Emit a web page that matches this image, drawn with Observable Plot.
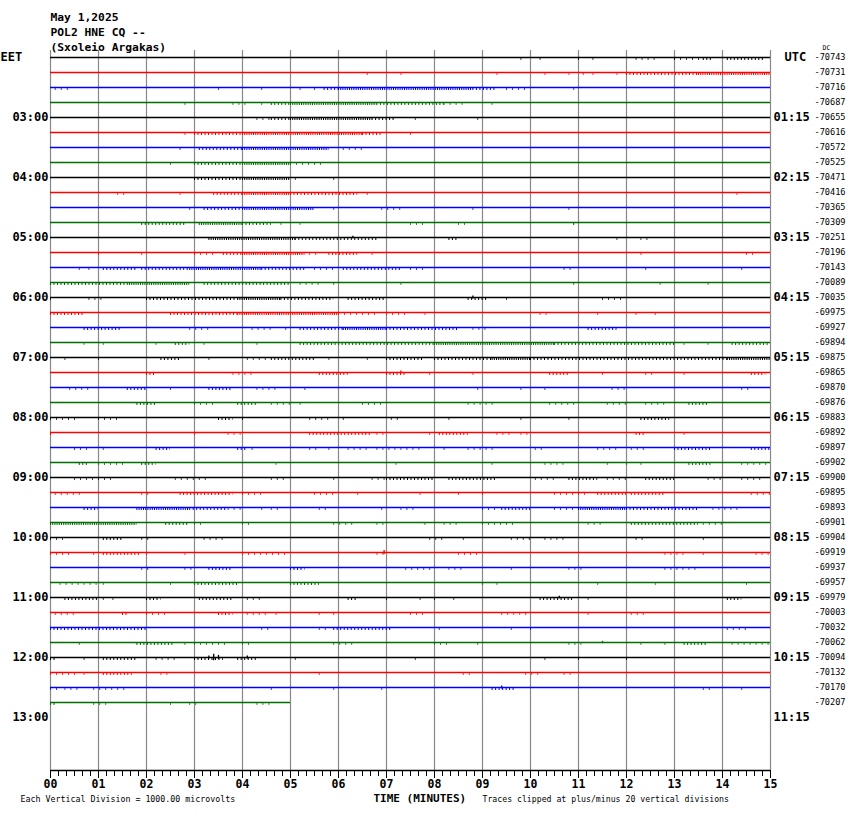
<!DOCTYPE html>
<html><head><meta charset="utf-8">
<script src="https://cdn.jsdelivr.net/npm/d3@7"></script>
<script src="https://cdn.jsdelivr.net/npm/@observablehq/plot@0.6"></script>
<style>
body{margin:0;background:#fff;}
#wrap{width:850px;height:814px;}
</style></head><body><div id="wrap"></div>
<script>
// ---------- data ----------
const titleLines = ["May 1,2025", "POL2 HNE CQ --", "(Sxoleio Argakas)"];
const hourLabels = ["03:00","04:00","05:00","06:00","07:00","08:00","09:00","10:00","11:00","12:00","13:00"];
const utcLabels  = ["01:15","02:15","03:15","04:15","05:15","06:15","07:15","08:15","09:15","10:15","11:15"];
const dcValues = [-70743,-70731,-70716,-70687,-70655,-70616,-70572,-70525,-70471,-70416,-70365,-70309,
  -70251,-70196,-70143,-70089,-70035,-69975,-69927,-69894,-69875,-69865,-69870,-69876,
  -69883,-69892,-69897,-69902,-69900,-69895,-69893,-69901,-69904,-69919,-69937,-69957,
  -69979,-70003,-70032,-70062,-70094,-70132,-70170,-70207];
const traceColors = ["#000000", "#ff0000", "#0000ff", "#006e00"];
const minuteTicks = [0,1,2,3,4,5,6,7,8,9,10,11,12,13,14,15];
const lastRowEnd = 5; // last trace stops at minute 5
// noise bands per row: [fromMinute, toMinute, level (1 sparse, 2 medium, 3 dense)]
const noise = [
 [[9.8,9.8,1],[10.2,10.2,1],[11.0,11.0,1],[11.3,11.4,1],[12.2,12.7,1],[13.0,13.6,1],[13.6,13.8,2],[14.1,14.9,2]],
 [[6.6,6.6,1],[7.3,7.3,1],[9.3,9.3,1],[10.3,10.3,1],[10.8,10.8,1],[11.1,11.1,1],[11.3,11.3,1],[11.8,11.8,1],[12.0,13.5,2],[13.5,15,3]],
 [[0.1,0.4,1],[3.5,3.5,1],[4.4,4.4,1],[5.2,5.2,1],[5.5,5.5,1],[5.7,6.0,2],[6.0,8.8,3],[8.8,9.3,2],[9.5,9.9,1],[10.9,10.9,1]],
 [[2.8,2.8,1],[3.8,4.1,1],[4.4,4.4,1],[4.6,5.0,2],[5.0,6.8,3],[6.8,8.2,2],[8.2,8.6,1],[9.2,9.2,1]],
 [[4.3,4.6,1],[4.6,5.0,2],[5.0,6.7,3],[6.7,7.2,2],[7.6,7.6,1],[8.9,8.9,1]],
 [[2.8,2.8,1],[3.0,4.0,2],[4.0,6.5,3],[6.5,6.9,2],[7.5,7.5,1]],
 [[2.7,2.7,1],[3.1,4.0,2],[4.0,5.8,3],[6.1,6.6,1]],
 [[2.5,2.6,1],[3.0,4.0,2],[4.0,5.0,3],[5.0,5.7,1]],
 [[3.0,4.0,2],[4.0,5.0,3],[5.1,5.1,1],[5.9,5.9,1]],
 [[1.4,1.6,1],[2.7,2.7,1],[3.4,4.0,2],[4.0,5.0,3],[5.0,6.4,2],[6.6,6.6,1],[14.3,14.3,1]],
 [[2.9,3.0,1],[3.2,4.0,2],[4.0,5.5,3],[5.9,5.9,1],[6.9,7.4,1],[8.8,8.8,1],[10.8,10.8,1]],
 [[1.9,2.8,2],[3.1,4.0,3],[4.0,4.6,2],[4.8,4.8,1],[5.2,5.2,1],[7.5,7.8,1],[8.5,8.7,1],[10.9,10.9,2]],
 [[3.3,5.1,3],[5.1,6.8,2],[8.3,8.5,2],[11.8,11.8,1],[12.3,12.5,1]],
 [[1.0,1.0,1],[1.9,1.9,1],[3.0,3.4,1],[3.6,4.0,2],[4.0,5.3,3],[5.4,5.6,1],[5.8,6.4,2],[6.7,6.7,1],[12.3,12.3,1],[14.5,14.7,1]],
 [[0.6,0.6,1],[0.8,0.8,1],[1.1,1.8,2],[1.9,2.9,2],[2.9,4.4,3],[4.4,5.3,2],[5.5,6.0,1],[6.1,7.3,2],[7.5,7.8,1],[10.7,10.9,1],[12.4,12.5,1],[14.4,14.5,1]],
 [[0,1.6,2],[1.6,2.9,3],[3.2,5.0,2],[5.2,5.7,1],[5.9,5.9,1],[7.3,7.3,1],[10.9,11.0,1],[12.7,12.7,1],[13.7,13.7,1]],
 [[0,0,1],[0.8,1.1,1],[2.0,3.9,2],[3.9,4.8,3],[4.8,5.9,2],[6.2,7.0,2],[8.7,9.1,2],[9.5,9.5,1],[11.5,11.9,1]],
 [[0,0.7,2],[2.5,3.9,2],[3.9,6.0,3],[6.0,6.8,1],[7.0,7.5,1],[7.8,7.8,1],[10.2,10.4,1],[11.4,11.4,1],[12.2,12.2,1],[12.6,12.6,1]],
 [[0.7,1.5,2],[2.9,3.3,1],[4.2,4.6,1],[4.9,4.9,1],[5.2,6.1,2],[6.1,7.0,3],[7.0,8.5,2],[8.8,9.1,1],[11.2,11.8,2]],
 [[0.7,0.7,1],[1.1,1.1,1],[2.2,2.2,1],[2.6,2.9,2],[3.2,3.2,1],[4.3,4.3,1],[5.2,8.0,2],[8.0,10.5,3],[10.5,13.0,2],[13.2,13.2,1],[13.7,13.7,1],[14.2,15,2]],
 [[0.3,0.3,1],[1.0,1.0,1],[2.3,2.7,2],[3.3,3.3,1],[4.1,4.5,1],[4.6,5.5,2],[5.8,5.8,1],[6.6,6.6,1],[7.0,7.8,2],[8.0,9.2,2],[9.2,10.0,3],[10.0,14.1,2],[14.1,15,3]],
 [[2.0,2.2,2],[3.8,4.3,1],[5.6,6.2,2],[7.0,7.4,2],[7.9,7.9,1],[8.8,8.8,1],[10.4,10.8,2],[11.5,11.5,1],[12.4,12.6,1],[13.2,13.2,1],[14.6,14.9,2]],
 [[0.4,0.9,1],[1.6,2.0,2],[2.5,2.5,1],[3.3,3.8,2],[4.3,4.7,1],[5.3,5.4,1],[8.9,8.9,1],[9.8,9.8,1],[10.3,10.3,1],[11.7,12.0,1],[14.4,14.6,1]],
 [[1.8,2.2,2],[3.0,3.5,1],[3.9,4.3,2],[4.6,5.0,1],[5.2,5.2,1],[6.5,6.9,1],[8.7,9.3,1],[10.4,11.0,1],[11.6,12.0,1],[12.4,12.9,1],[13.3,13.7,2]],
 [[0,0.4,1],[0.5,0.6,1],[1.0,1.4,1],[3.5,3.8,2],[4.0,4.1,1],[5.4,5.9,1],[6.1,6.1,1],[7.1,7.3,1],[8.3,8.3,1],[9.8,9.8,1],[10.8,10.9,1],[12.3,12.9,2]],
 [[0,0,2],[3.0,3.1,1],[3.7,4.0,1],[5.4,6.7,2],[6.8,7.0,1],[7.9,7.9,1],[8.1,8.7,2],[9.3,9.6,1],[9.8,10.0,1],[12.2,12.4,2],[13.2,13.2,1]],
 [[0.5,0.8,1],[1.1,1.2,1],[2.2,2.5,2],[3.9,4.1,2],[4.2,4.2,1],[5.4,5.6,1],[5.8,5.8,1],[6.2,6.7,1],[6.8,7.8,1],[8.2,8.2,1],[8.7,9.3,1],[10.1,10.3,1],[11.4,11.9,1],[12.1,12.4,1],[13.0,13.8,2],[14.6,15,2]],
 [[0.6,0.8,2],[1.0,1.6,1],[1.9,2.2,2],[4.7,4.7,1],[7.2,7.2,1],[9.2,9.2,1],[10.3,10.8,1],[11.6,11.6,1],[12.0,12.0,1],[12.3,12.3,1],[13.3,13.8,2],[14.4,15,1]],
 [[0.5,1.3,1],[2.6,3.3,1],[4.6,4.9,1],[5.9,6.0,1],[6.7,7.0,1],[7.0,8.0,2],[8.3,9.3,2],[10.1,10.5,1],[10.8,11.4,2],[11.6,12.0,1],[12.4,13.0,2],[13.7,14.0,1],[14.4,14.8,1]],
 [[0.1,0.7,1],[1.9,2.1,1],[2.7,3.8,2],[4.0,4.4,1],[5.5,5.9,1],[6.4,6.4,1],[7.7,7.7,1],[8.5,8.5,1],[9.0,9.0,1],[10.5,11.2,1],[11.4,12.0,2],[12.1,12.8,2],[14.6,15,1]],
 [[0.7,1.0,2],[1.8,2.9,3],[2.9,3.7,2],[3.7,4.0,1],[4.4,4.4,1],[4.6,4.8,1],[5.6,5.8,1],[6.9,6.9,1],[7.3,7.6,1],[9.0,9.3,1],[9.4,10.0,2],[10.5,11.0,1],[11.0,12.0,3],[12.0,13.5,2],[13.8,14.4,1]],
 [[0,1.8,3],[2.4,2.9,2],[3.0,3.2,1],[4.0,4.2,1],[5.9,6.3,1],[6.8,7.0,1],[7.8,7.8,1],[8.2,8.5,1],[9.0,9.7,1],[11.2,11.5,1],[12.1,13.5,2],[13.6,14.0,1]],
 [[0,0.3,1],[1.1,1.5,2],[1.9,2.1,1],[3.2,3.6,1],[7.9,8.2,1],[8.6,8.6,1],[9.6,10.0,1],[10.3,10.8,1],[12.2,12.4,1],[13.6,13.6,1]],
 [[0,0.4,1],[0.9,0.9,1],[1.1,1.9,2],[2.0,2.0,1],[2.8,2.9,1],[4.0,4.9,1],[6.8,7.0,1],[8.5,8.9,1],[12.8,13.2,1],[13.6,13.6,1],[14.7,15,1]],
 [[1.9,2.1,1],[2.8,3.0,1],[3.3,3.8,2],[5.0,5.3,2],[7.4,8.0,1],[8.3,8.6,1],[9.6,9.7,1],[10.8,11.1,1],[12.8,13.5,1]],
 [[0.2,1.0,1],[1.1,1.1,1],[2.5,2.5,1],[3.0,3.9,2],[5.0,5.6,2],[9.0,9.0,1],[9.3,9.3,1],[11.4,11.4,1],[12.6,12.6,1],[14.5,14.6,1]],
 [[0.3,1.0,2],[1.1,1.1,1],[1.3,1.3,1],[2.0,2.3,2],[3.1,3.8,2],[4.1,4.4,1],[6.2,6.4,2],[7.0,7.0,1],[7.7,7.7,1],[8.0,8.0,1],[8.4,8.4,1],[10.2,10.9,2],[11.2,11.2,1],[14.1,14.4,2]],
 [[0.1,0.6,1],[1.5,1.6,2],[2.0,2.4,1],[3.5,3.8,2],[4.1,4.5,1],[4.7,4.7,1],[5.6,5.6,1],[5.9,5.9,1],[7.5,7.8,1],[9.4,9.8,1],[9.9,9.9,1],[11.2,11.2,1],[12.1,12.4,1]],
 [[0,2.0,2],[4.4,4.6,1],[5.6,5.8,1],[5.9,7.1,2],[8.1,8.2,1],[9.6,9.6,1],[10.0,10.0,1],[14.1,14.6,1]],
 [[0.6,0.6,1],[1.8,2.6,2],[2.8,2.8,1],[3.0,3.7,1],[4.0,4.2,1],[5.9,6.4,1],[8.0,8.3,1],[8.9,9.0,1],[10.8,11.1,1],[12.3,12.3,1],[12.8,12.8,1],[13.2,13.7,2],[14.2,15,1]],
 [[0,0.1,2],[0.7,0.7,1],[1.1,1.8,2],[2.2,2.7,1],[3.0,3.6,2],[3.9,4.3,2],[5.1,5.1,1],[7.6,7.6,1],[10.3,10.3,1],[11.0,11.0,1],[12.0,12.0,1]],
 [[0,0.6,1],[0.7,0.8,1],[1.1,1.7,2],[2.3,2.5,1],[5.6,5.6,1],[8.6,8.8,1],[9.9,10.2,1],[10.7,10.9,1]],
 [[0,0.2,1],[0.3,0.6,1],[0.9,1.6,1],[4.6,4.6,1],[5.9,5.9,1],[6.9,7.0,1],[9.2,9.7,2],[13.6,13.8,1],[14.4,14.4,1]],
 [[0,0.1,2],[0.9,1.2,1],[2.5,2.5,1],[2.9,3.1,1],[4.3,4.6,1]]
];
// larger excursions: [row, minute, half-amplitude in row units]
const spikes = [[40,3.4,0.22],[40,3.5,0.14],[40,3.3,0.1],[40,4.1,0.1],[33,6.95,0.14],[21,7.3,0.1],[16,8.8,0.1],[12,6.3,0.08],[42,9.4,0.1],[36,10.6,0.08],[39,11.5,0.08]];
const footLeft = "Each Vertical Division = 1000.00 microvolts";
const footMid = "TIME (MINUTES)";
const footRight = "Traces clipped at plus/minus 20 vertical divisions";

// ---------- layout ----------
const W = 850, H = 814, mL = 50, mR = 80, mT = 50, mB = 44;
const rowPx = 15, firstRowOffset = 7;
const yDomain = [-firstRowOffset / rowPx, (H - mT - mB - firstRowOffset) / rowPx];

const rows = dcValues.map((v, r) => ({r, end: r === dcValues.length - 1 ? lastRowEnd : 15, color: traceColors[r % 4], dc: String(v)}));
const bands = noise.flatMap((list, r) => list.map(([a, b, l]) => ({r, x1: a, x2: Math.max(b, a + 0.05), l, color: traceColors[r % 4]})));
const spikeData = spikes.map(([r, m, a]) => ({r, m, a, color: traceColors[r % 4]}));
const hourRows = hourLabels.map((t, i) => ({r: 4 * (i + 1), t}));
const utcRows = utcLabels.map((t, i) => ({r: 4 * (i + 1), t}));
const minorTicks = d3.range(0, 15 * 6 + 1).map(i => i / 6);
const font = "'DejaVu Sans Mono', 'Liberation Mono', monospace";
const bandStyle = {1: {dash: "1,5", w: 1.6}, 2: {dash: "1,2.5", w: 1.8}, 3: {dash: "1,1.2", w: 2}};

const chart = Plot.plot({
  width: W, height: H,
  marginLeft: mL, marginRight: mR, marginTop: mT, marginBottom: mB,
  style: {fontFamily: font, fontSize: "12px", background: "#fff", color: "#000"},
  x: {domain: [0, 15], axis: null},
  y: {domain: yDomain, range: [mT, H - mB], axis: null},
  color: {type: "identity"},
  marks: [
    Plot.ruleX(minuteTicks, {x: d => d, stroke: "#888888", strokeWidth: 1.2}),
    Plot.ruleY(rows, {y: "r", x1: 0, x2: "end", stroke: "color", strokeWidth: 1.3}),
    ...[1, 2, 3].map(l => Plot.ruleY(bands.filter(d => d.l === l), {
      y: "r", x1: "x1", x2: "x2", stroke: "color", dy: 1.5, strokeWidth: bandStyle[l].w,
      strokeDasharray: bandStyle[l].dash
    })),
    Plot.ruleX(spikeData, {x: "m", y1: d => d.r - d.a, y2: d => d.r + d.a, stroke: "color", strokeWidth: 1.3}),
    Plot.ruleY([yDomain[1]], {stroke: "#000", strokeWidth: 1.3}),
    Plot.axisX(minuteTicks, {anchor: "bottom", tickSize: 8, tickPadding: 1, stroke: "#000",
      tickFormat: d => String(d).padStart(2, "0"), fontWeight: "bold", fontSize: 11.5}),
    Plot.axisX(minorTicks, {anchor: "bottom", tickSize: 6, tickFormat: () => "", stroke: "#000"}),
    // left hour labels
    Plot.text(hourRows, {y: "r", text: "t", frameAnchor: "left", textAnchor: "end", dx: -2, fontWeight: "bold", fontSize: 12}),
    Plot.text(["EET"], {y: 0, text: d => d, frameAnchor: "left", textAnchor: "start", dx: -50, fontWeight: "bold", fontSize: 12}),
    // right UTC labels
    Plot.text(utcRows, {y: "r", text: "t", frameAnchor: "right", textAnchor: "start", dx: 3, fontWeight: "bold", fontSize: 12}),
    Plot.text(["UTC"], {y: 0, text: d => d, frameAnchor: "right", textAnchor: "start", dx: 14, fontWeight: "bold", fontSize: 12}),
    // DC offsets
    Plot.text(rows, {y: "r", text: "dc", frameAnchor: "right", textAnchor: "end", dx: 75, fontSize: 8.6}),
    Plot.text(["DC"], {text: d => d, frameAnchor: "top-right", textAnchor: "start", dx: 52, dy: -5, fontSize: 6.5}),
    // header
    ...titleLines.map((t, i) => Plot.text([t], {text: d => d, frameAnchor: "top-left", textAnchor: "start", dy: -38 + 15 * i, fontWeight: "bold", fontSize: 11.3})),
    // footer
    Plot.text([footLeft], {text: d => d, frameAnchor: "bottom-left", textAnchor: "start", dx: -30, dy: 31, fontSize: 8.3}),
    Plot.text([footMid], {text: d => d, frameAnchor: "bottom-left", textAnchor: "start", dx: 323, dy: 31, fontWeight: "bold", fontSize: 11}),
    Plot.text([footRight], {text: d => d, frameAnchor: "bottom-left", textAnchor: "start", dx: 432, dy: 31, fontSize: 8.2})
  ]
});
document.getElementById("wrap").appendChild(chart);
</script>
</body></html>
